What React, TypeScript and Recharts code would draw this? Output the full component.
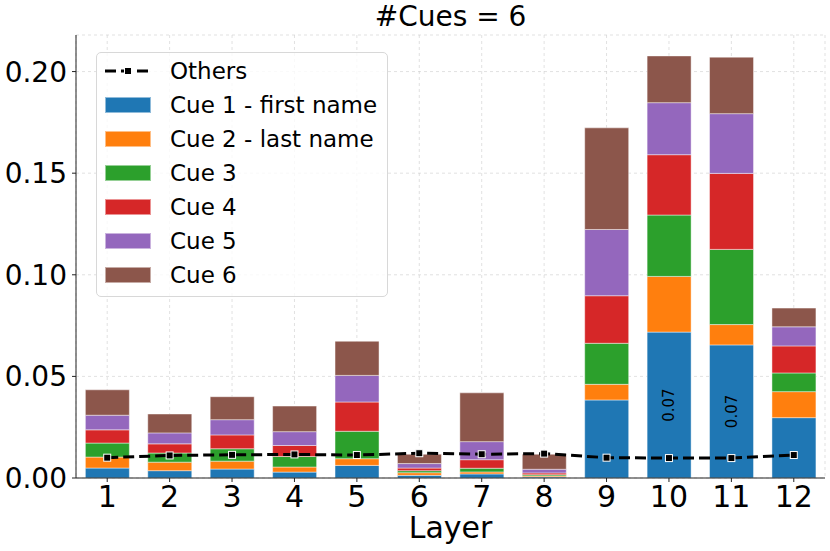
import React from 'react';
import { ComposedChart, Bar, Line, XAxis, YAxis, CartesianGrid, LabelList, Label } from 'recharts';

const layers = ['1', '2', '3', '4', '5', '6', '7', '8', '9', '10', '11', '12'];
const cue1 = [0.0049, 0.0036, 0.0044, 0.0029, 0.0062, 0.0013, 0.0020, 0.0005, 0.0384, 0.0718, 0.0655, 0.0297];
const cue2 = [0.0054, 0.0042, 0.0039, 0.0025, 0.0033, 0.0013, 0.0010, 0.0005, 0.0077, 0.0274, 0.0100, 0.0128];
const cue3 = [0.0069, 0.0045, 0.0061, 0.0052, 0.0135, 0.0010, 0.0018, 0.0006, 0.0202, 0.0302, 0.0370, 0.0092];
const cue4 = [0.0065, 0.0045, 0.0068, 0.0054, 0.0144, 0.0013, 0.0042, 0.0009, 0.0234, 0.0297, 0.0374, 0.0133];
const cue5 = [0.0072, 0.0054, 0.0075, 0.0068, 0.0131, 0.0022, 0.0089, 0.0018, 0.0326, 0.0256, 0.0294, 0.0094];
const cue6 = [0.0125, 0.0093, 0.0113, 0.0126, 0.0168, 0.0046, 0.0240, 0.0074, 0.0500, 0.0230, 0.0278, 0.0092];
const others = [0.0100, 0.0111, 0.0114, 0.0116, 0.0113, 0.0122, 0.0117, 0.0120, 0.0100, 0.0098, 0.0098, 0.0113];
const yTicks = [0, 0.05, 0.1, 0.15, 0.2];

const cueNames = ['Cue 1 - first name', 'Cue 2 - last name', 'Cue 3', 'Cue 4', 'Cue 5', 'Cue 6'];
const cueKeys = ['cue1', 'cue2', 'cue3', 'cue4', 'cue5', 'cue6'];
const colors = ['#1f77b4', '#ff7f0e', '#2ca02c', '#d62728', '#9467bd', '#8c564b'];

const data = layers.map((layer, i) => ({
  layer,
  cue1: cue1[i],
  cue2: cue2[i],
  cue3: cue3[i],
  cue4: cue4[i],
  cue5: cue5[i],
  cue6: cue6[i],
  others: others[i],
}));

const font = 'DejaVu Sans, sans-serif';

const SquareDot = (props: any) => {
  const { cx, cy } = props;
  if (cx == null || cy == null) return null;
  return <rect x={cx - 3.5} y={cy - 3.5} width={7} height={7} fill="#000" stroke="#fff" strokeWidth={1} />;
};

// value written sideways inside the big blue segments
const BlueLabel = (props: any) => {
  const { x, y, width, height, value } = props;
  if (value < 0.05) return null;
  const cx = x + width / 2;
  const cy = y + height / 2;
  return (
    <text x={cx} y={cy} transform={`rotate(-90, ${cx}, ${cy})`} textAnchor="middle" dominantBaseline="central"
      fontSize={15} fontFamily={font} fill="#000">
      {Number(value).toFixed(2)}
    </text>
  );
};

const LegendBox = () => (
  <div style={{
    position: 'absolute', left: 96, top: 52, width: 292, height: 245,
    border: '1px solid #d8d8d8', borderRadius: 5, background: 'rgba(255,255,255,0.8)',
    fontFamily: font, fontSize: 23, color: '#000', boxSizing: 'border-box',
  }}>
    <div style={{ position: 'absolute', left: 8, top: 1, height: 34, display: 'flex', alignItems: 'center' }}>
      <svg width={46} height={16}>
        <line x1={0} y1={8} x2={46} y2={8} stroke="#000" strokeWidth={3} strokeDasharray="11 5" />
        <rect x={19.5} y={4.5} width={7} height={7} fill="#000" stroke="#fff" strokeWidth={1} />
      </svg>
      <span style={{ marginLeft: 19 }}>Others</span>
    </div>
    {cueNames.map((name, i) => (
      <div key={name} style={{ position: 'absolute', left: 8, top: 1 + 34 * (i + 1), height: 34, display: 'flex', alignItems: 'center' }}>
        <div style={{ width: 46, height: 16, background: colors[i], boxSizing: 'border-box', border: '1px solid rgba(255,255,255,0.5)' }} />
        <span style={{ marginLeft: 19, whiteSpace: 'nowrap' }}>{name}</span>
      </div>
    ))}
  </div>
);

export default function App() {
  return (
    <div style={{ position: 'absolute', left: 0, top: 0, width: 830, height: 551, background: '#fff' }}>
      <div style={{
        position: 'absolute', left: 76, width: 749, top: 0, textAlign: 'center',
        fontFamily: font, fontSize: 28, lineHeight: '34px', color: '#000',
      }}>
        #Cues = 6
      </div>
      <ComposedChart width={830} height={551} data={data} barCategoryGap="15%"
        margin={{ top: 35, right: 5, left: 0, bottom: 0 }}>
        <XAxis dataKey="layer" height={73} tickSize={4} tickMargin={4} stroke="#222"
          tick={{ fontSize: 30, fontFamily: font, fill: '#000' }} interval={0}>
          <Label value="Layer" position="insideBottom" offset={13}
            style={{ fontSize: 30, fontFamily: font, fill: '#000' }} />
        </XAxis>
        <XAxis xAxisId="top" dataKey="layer" orientation="top" height={0} tick={false} tickLine={false} stroke="#222" />
        <YAxis width={76} domain={[0, 0.218]} ticks={yTicks} tickFormatter={(v) => v.toFixed(2)}
          tickSize={4} tickMargin={5} stroke="#222" allowDataOverflow
          tick={{ fontSize: 28, fontFamily: font, fill: '#000' }} />
        <YAxis yAxisId="right" orientation="right" width={0} domain={[0, 0.218]} tick={false} tickLine={false} stroke="#222" />
        {cueKeys.map((k, i) => (
          <Bar key={k} dataKey={k} name={cueNames[i]} stackId="cues" fill={colors[i]}
            stroke="#ffffff" strokeOpacity={0.45} strokeWidth={1} isAnimationActive={false}>
            {i === 0 && <LabelList dataKey={k} content={BlueLabel} />}
          </Bar>
        ))}
        <CartesianGrid stroke="#d0d0d0" strokeDasharray="3 3" strokeWidth={0.8} strokeOpacity={0.8} />
        <Line dataKey="others" name="Others" type="linear" stroke="#000" strokeWidth={3}
          strokeDasharray="11 5" dot={<SquareDot />} activeDot={false} isAnimationActive={false} />
      </ComposedChart>
      <LegendBox />
    </div>
  );
}
